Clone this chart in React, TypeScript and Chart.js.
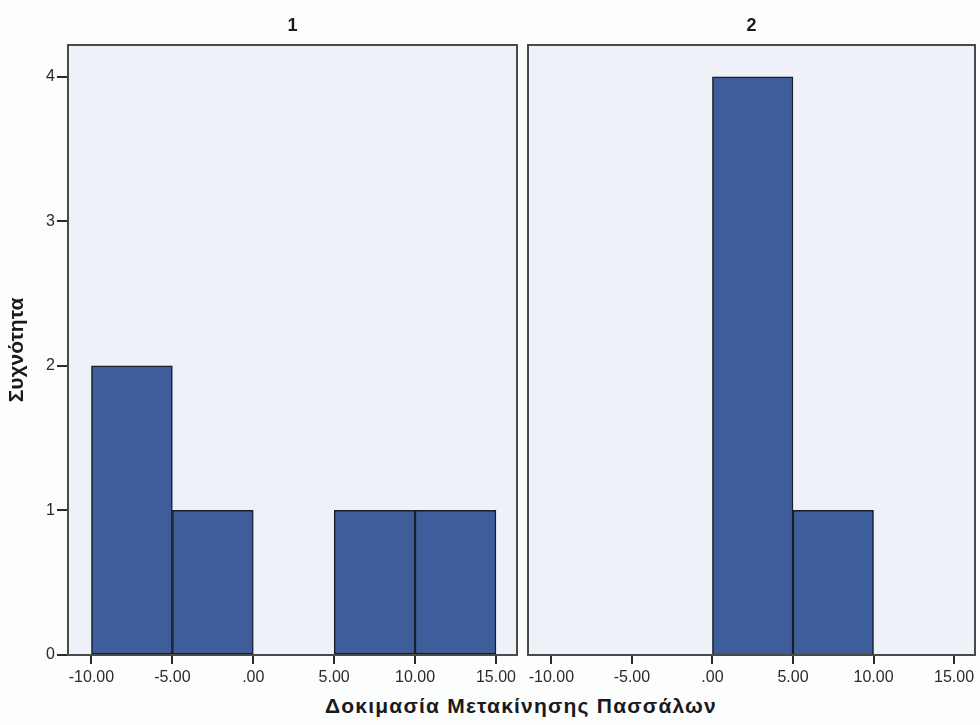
import React, { useEffect, useRef } from "react";
import { Chart, registerables } from "chart.js";

Chart.register(...registerables);

// Histogram bins (bin centres, width 5) and frequencies
const binCenters1 = [-7.5, -2.5, 7.5, 12.5];
const counts1 = [2, 1, 1, 1];
const binCenters2 = [2.5, 7.5];
const counts2 = [4, 1];
const panelTitles = ["1", "2"];
const xTickValues = [-10, -5, 0, 5, 10, 15];
const xTickLabels = ["-10.00", "-5.00", ".00", "5.00", "10.00", "15.00"];
const yTickValues = [0, 1, 2, 3, 4];
const xTitle = "Δοκιμασία Μετακίνησης Πασσάλων";
const yTitle = "Συχνότητα";

const FONT = "'Liberation Sans', Arial, sans-serif";
const BAR_COLOR = "#3d5e9a";
const BAR_BORDER = "#161e2b";
const PLOT_BG = "#eef2f8";
const FRAME = "#4a4a4a";

const framePlugin = {
  id: "frame",
  beforeDatasetsDraw(chart: any) {
    const { ctx, chartArea } = chart;
    ctx.save();
    ctx.fillStyle = PLOT_BG;
    ctx.fillRect(chartArea.left, chartArea.top, chartArea.right - chartArea.left, chartArea.bottom - chartArea.top);
    ctx.restore();
  },
  afterDatasetsDraw(chart: any) {
    const { ctx, chartArea } = chart;
    ctx.save();
    ctx.strokeStyle = FRAME;
    ctx.lineWidth = 2;
    ctx.strokeRect(chartArea.left, chartArea.top, chartArea.right - chartArea.left, chartArea.bottom - chartArea.top);
    ctx.restore();
  },
};

function makeConfig(centers: number[], counts: number[], title: string, showY: boolean, padL: number, padR: number): any {
  return {
    type: "bar",
    data: {
      datasets: [
        {
          data: centers.map((x, i) => ({ x, y: counts[i] })),
          backgroundColor: BAR_COLOR,
          borderColor: BAR_BORDER,
          borderWidth: 1.5,
          borderSkipped: false,
          barPercentage: 1,
          categoryPercentage: 1,
        },
      ],
    },
    options: {
      animation: false,
      responsive: false,
      maintainAspectRatio: false,
      layout: { padding: { left: padL, right: padR, top: 0, bottom: 0 } },
      plugins: {
        legend: { display: false },
        tooltip: { enabled: false },
        title: {
          display: true,
          fullSize: false,
          text: title,
          color: "#1a1a1a",
          font: { family: FONT, size: 18, weight: "bold" },
          padding: { top: 15, bottom: 8.4 },
        },
      },
      scales: {
        x: {
          type: "linear",
          offset: false,
          min: -11.45,
          max: 16.3,
          afterBuildTicks: (scale: any) => {
            scale.ticks = xTickValues.map((v) => ({ value: v }));
          },
          afterFit: (scale: any) => {
            scale.height = 35;
          },
          ticks: {
            autoSkip: false,
            maxRotation: 0,
            color: "#2a2a2a",
            padding: 4,
            font: { family: FONT, size: 16 },
            callback: (v: number) => xTickLabels[xTickValues.indexOf(v)],
          },
          grid: { offset: false, drawOnChartArea: false, drawTicks: true, tickLength: 9, color: "#2a2a2a", lineWidth: 2 },
          border: { display: false },
        },
        y: {
          display: showY,
          min: 0,
          max: 4.22,
          afterBuildTicks: (scale: any) => {
            scale.ticks = yTickValues.map((v) => ({ value: v }));
          },
          afterFit: (scale: any) => {
            scale.width = showY ? 68 : 0;
          },
          ticks: {
            color: "#2a2a2a",
            padding: 2,
            font: { family: FONT, size: 16 },
          },
          grid: { drawOnChartArea: false, drawTicks: true, tickLength: 11, color: "#2a2a2a", lineWidth: 2 },
          border: { display: false },
          title: {
            display: true,
            text: yTitle,
            color: "#1a1a1a",
            font: { family: FONT, size: 21, weight: "bold" },
            padding: { top: 5, bottom: 0 },
          },
        },
      },
    },
    plugins: [framePlugin],
  };
}

export default function App() {
  const ref1 = useRef<HTMLCanvasElement>(null);
  const ref2 = useRef<HTMLCanvasElement>(null);

  useEffect(() => {
    const c1 = new Chart(ref1.current!, makeConfig(binCenters1, counts1, panelTitles[0], true, 0, 5));
    const c2 = new Chart(ref2.current!, makeConfig(binCenters2, counts2, panelTitles[1], false, 6, 5));
    return () => {
      c1.destroy();
      c2.destroy();
    };
  }, []);

  return (
    <div style={{ position: "absolute", left: 0, top: 0, width: 980, height: 725, background: "#fcfdfd", overflow: "hidden" }}>
      <canvas ref={ref1} width={522} height={690} style={{ position: "absolute", left: 0, top: 0, width: 522, height: 690 }} />
      <canvas ref={ref2} width={458} height={690} style={{ position: "absolute", left: 522, top: 0, width: 458, height: 690 }} />
      <div
        style={{
          position: "absolute",
          left: 0,
          width: 1042,
          top: 694,
          textAlign: "center",
          fontFamily: FONT,
          fontWeight: "bold",
          fontSize: 21,
          color: "#1a1a1a",
          letterSpacing: 1.2,
          lineHeight: "24px",
        }}
      >
        {xTitle}
      </div>
    </div>
  );
}
